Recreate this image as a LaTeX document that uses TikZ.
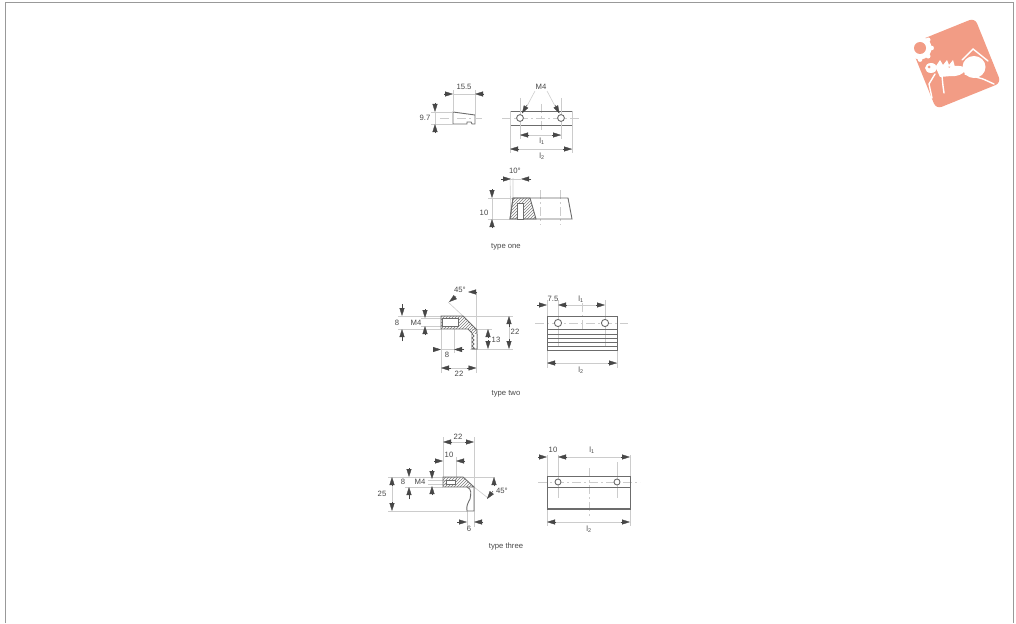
\documentclass[tikz,border=0pt]{standalone}
\usepackage{fontspec}
\setmainfont{Liberation Sans}
\usetikzlibrary{arrows.meta,patterns}
\definecolor{ink}{gray}{0.28}
\definecolor{thin}{gray}{0.80}
\definecolor{salmon}{HTML}{F29C85}
\newcommand\ar[2]{\draw[arr] #1 -- #2;}
\begin{document}
\begin{tikzpicture}[x=1pt,y=-1pt,
  arr/.style={draw=ink,line width=0.35pt,-{Triangle[length=8pt,width=5pt]},fill=ink},
  dimln/.style={draw=thin,line width=0.6pt},
  ctr/.style={draw=thin,line width=0.6pt,dash pattern=on 9pt off 3pt on 2pt off 3pt},
  obj/.style={draw=ink!80,line width=0.9pt},
  hatched/.style={pattern=north east lines,pattern color=ink!70},
  lab/.style={font=\fontsize{7.7}{8}\selectfont,text=ink,inner sep=0pt},
  antw/.style={draw=white,line width=1.4pt,line cap=round}]
\useasboundingbox (0,0) rectangle (1016,623);
\draw[draw=gray!80,line width=0.8pt] (5,623) -- (5,2.5) -- (1013,2.5) -- (1013,623);

% ---------- logo
\begin{scope}[shift={(955.5,63.5)},rotate=22]
  \fill[salmon,rounded corners=6pt] (-35,-35) rectangle (35,35);
\end{scope}
\fill[white] (920,48) circle (11.5);
\foreach \a in {0,45,...,315}{\fill[white] (920,48) ++(\a:11.5) circle (2.4);}
\fill[salmon] (920,48) circle (6);
\fill[white] (974,67) ellipse (11.5 and 11);
\fill[white,rotate around={10:(955,71)}] (955,71) ellipse (10 and 5);
\fill[white] (931,68) ellipse (6 and 5);
\fill[white] (935,66) -- (948,65) -- (951,76) -- (940,77) -- cycle;
\fill[white] (936,66) -- (940,60) -- (943,65) -- (947,60) -- (949,65) -- (953,60) -- (955,67) -- cycle;
\fill[salmon] (929,67) circle (1.5);
\draw[antw] (935,74) -- (929,84) -- (932,98);
\draw[antw] (942,76) -- (943,86) -- (944,93);
\draw[antw] (962,60) -- (973,49) -- (988,61);
\draw[antw] (965,74) -- (983,79) -- (994,84);

% ---------- type one: side view
\draw[obj] (453,112) -- (475,115) -- (475,124) -- (472,124) -- (471,122) -- (467,122) -- (467,124) -- (453,124) -- cycle;
\draw[ctr] (440,118) -- (482,118);
\draw[dimln] (453,90) -- (453,112) (475,90) -- (475,115);
\draw[dimln] (431,112) -- (453,112) (431,124) -- (453,124);
\ar{(444,94)}{(453,94)}
\ar{(484,94)}{(475,94)}
\ar{(435,103)}{(435,112)}
\ar{(435,133)}{(435,124)}
\draw[dimln] (453,94) -- (475,94) (435,112) -- (435,124);
\node[lab] (t155) at (464,87) {15.5};
\node[lab] (t97) at (425,118) {9.7};

% ---------- type one: front view
\draw[ctr] (502,118) -- (581,118);
\draw[ctr] (541,104) -- (541,133);
\draw[obj] (510,111) rectangle (572,125);
\draw[dimln] (520,98) -- (520,139) (561,98) -- (561,139);
\draw[dimln] (510,111) -- (510,153) (572,111) -- (572,153);
\draw[dimln] (520,135) -- (561,135) (510,149) -- (572,149);
\draw[obj,fill=white] (520,118) circle (3.4);
\draw[obj,fill=white] (561,118) circle (3.4);
\ar{(529,135)}{(520,135)}
\ar{(552,135)}{(561,135)}
\ar{(519,149)}{(510,149)}
\ar{(563,149)}{(572,149)}
\node[lab] (m4a) at (541,87) {M4};
\draw[dimln] (535,91) -- (527,106);
\draw[dimln] (547,91) -- (555,106);
\ar{(527,105)}{(522,113.5)}
\ar{(555,105)}{(559.5,113.5)}
\node[lab] (l1a) at (542,141) {l\textsubscript{1}};
\node[lab] (l2a) at (542,156) {l\textsubscript{2}};

% ---------- type one: section
\draw[dimln] (510,178) -- (511,219) (513,178) -- (513,198);
\draw[dimln] (488,198) -- (513,198) (488,219) -- (510,219);
\draw[ctr] (540,190) -- (540,225) (560,190) -- (560,225);
\draw[obj] (513,198) -- (568,198) -- (572,219) -- (510,219) -- cycle;
\draw[obj,hatched] (513,198) -- (530,198) -- (536,219) -- (510,219) -- cycle;
\draw[obj,fill=white] (517,203) rectangle (523,219);
\ar{(501,179)}{(511,179)}
\ar{(531,179)}{(521,179)}
\draw[dimln] (511,179) -- (521,179);
\ar{(492,189)}{(492,198)}
\ar{(492,228)}{(492,219)}
\draw[dimln] (492,198) -- (492,219);
\node[lab] (a10) at (515,171) {10°};
\node[lab] (t10) at (484,213) {10};
\node[lab] (type1) at (506,247) {type one};

% ---------- type two: section
\draw[dimln] (398,316) -- (463,316) (398,329) -- (441,329) (421,318) -- (442,318) (421,326) -- (442,326);
\draw[dimln] (463,316) -- (513,316) (477,349) -- (513,349) (472,329) -- (492,329);
\draw[dimln] (441,329) -- (441,373) (454,329) -- (454,353) (476.5,292) -- (476.5,373);
\draw[dimln] (448,302) -- (463,316);
\draw[obj,hatched] (441,316) -- (463,316) -- (477,330) -- (477,349) -- (472,349) -- (472,333) -- (468,329) -- (441,329) -- cycle;
\draw[obj,fill=white] (442,318) rectangle (458,326);
\draw[draw=none,fill=white] (472.4,334) rectangle (476.6,349);
\draw[obj] (472,334) -- (474,336) -- (472,338) -- (474,340) -- (472,342) -- (474,344) -- (472,346) -- (474,348) -- (472,349) -- (477,349) -- (477,334);
\ar{(402,304)}{(402,316)}
\ar{(402,341)}{(402,329)}
\ar{(425,309)}{(425,318)}
\ar{(425,335)}{(425,326)}
\ar{(509,327)}{(509,316)}
\ar{(509,339)}{(509,349)}
\draw[dimln] (509,327) -- (509,339);
\ar{(488,338)}{(488,329)}
\ar{(488,340)}{(488,349)}
\ar{(433,349.5)}{(441,349.5)}
\ar{(464,349.5)}{(454,349.5)}
\draw[dimln] (441,349.5) -- (454,349.5);
\ar{(451,368)}{(441,368)}
\ar{(467,368)}{(476.5,368)}
\draw[dimln] (451,368) -- (467,368);
\ar{(477,292)}{(468,292)}
\ar{(456,296.5)}{(449,302)}
\node[lab] (a45b) at (460,290) {45°};
\node[lab] (t8b) at (397,323) {8};
\node[lab] (m4b) at (416,323) {M4};
\node[lab] (t22b) at (515,332) {22};
\node[lab] (t13) at (496,340) {13};
\node[lab] (t8c) at (447,355) {8};
\node[lab] (t22c) at (459,374) {22};
\node[lab] (type2) at (506,394) {type two};

% ---------- type two: front view
\draw[ctr] (535,323) -- (628,323);
\draw[ctr] (582,303) -- (582,330);
\draw[dimln] (547,300) -- (547,368) (617,316) -- (617,368);
\draw[dimln] (558,300) -- (558,346) (605,300) -- (605,346);
\draw[obj] (547,316) rectangle (617,350);
\foreach \yy in {329,334,338,342,346}{\draw[obj] (547,\yy) -- (617,\yy);}
\draw[obj,fill=white] (558,323) circle (3.6);
\draw[obj,fill=white] (605,323) circle (3.6);
\ar{(537,305)}{(547,305)}
\ar{(567,305)}{(558,305)}
\ar{(596,305)}{(605,305)}
\draw[dimln] (567,305) -- (596,305) (547,363) -- (617,363);
\ar{(556,363)}{(547,363)}
\ar{(608,363)}{(617,363)}
\node[lab] (t75) at (553,299) {7.5};
\node[lab] (l1b) at (581,299) {l\textsubscript{1}};
\node[lab] (l2b) at (581,370) {l\textsubscript{2}};

% ---------- type three: section
\draw[dimln] (388,477) -- (495,477) (405,487) -- (443,487) (428,480) -- (446,480) (428,484) -- (446,484);
\draw[dimln] (388,511) -- (467,511);
\draw[dimln] (443,437) -- (443,477) (456,457) -- (456,480) (474,437) -- (474,527) (467,511) -- (467,527);
\draw[dimln] (474,487) -- (488,498);
\draw[obj,hatched] (443,477) -- (463,477) -- (474,487) -- (467.5,487) -- (443,487) -- cycle;
\draw[obj,fill=white] (446,480) rectangle (455,484);
\draw[obj] (467,487) .. controls (472,489) and (471,494) .. (470,499) .. controls (468,503) and (466,506) .. (467,511) -- (474,511) -- (474,487);
\ar{(452,442)}{(443,442)}
\ar{(465,442)}{(474,442)}
\draw[dimln] (452,442) -- (465,442);
\ar{(434,461)}{(443,461)}
\ar{(465,461)}{(456,461)}
\ar{(409,468)}{(409,477)}
\ar{(409,499)}{(409,487)}
\ar{(432,470)}{(432,479)}
\ar{(432,495)}{(432,486)}
\ar{(392,486)}{(392,477)}
\ar{(392,502)}{(392,511)}
\draw[dimln] (392,486) -- (392,502);
\ar{(494,486)}{(494,477)}
\ar{(493,491)}{(487,499)}
\ar{(457,522)}{(467,522)}
\ar{(483,522)}{(474,522)}
\node[lab] (t22d) at (458,437) {22};
\node[lab] (t10b) at (449,455) {10};
\node[lab] (t8d) at (403,482) {8};
\node[lab] (m4c) at (420,482) {M4};
\node[lab] (t25) at (382,494) {25};
\node[lab] (a45c) at (502,491) {45°};
\node[lab] (t6) at (469,529) {6};
\node[lab] (type3) at (506,547) {type three};

% ---------- type three: front view
\draw[ctr] (538,482) -- (640,482);
\draw[ctr] (589,468) -- (589,518);
\draw[dimln] (547,455) -- (547,526) (630,455) -- (630,526);
\draw[dimln] (558,455) -- (558,498) (617,462) -- (617,498);
\draw[obj] (547,476) rectangle (630,509);
\draw[obj] (547,487) -- (630,487);
\draw[obj,line width=1.2pt] (547,509) -- (630,509);
\draw[obj,fill=white] (558,482) circle (3);
\draw[obj,fill=white] (617,482) circle (3);
\ar{(538,457)}{(547,457)}
\ar{(567,457)}{(558,457)}
\ar{(621,457)}{(630,457)}
\draw[dimln] (567,457) -- (621,457) (556,522) -- (621,522);
\ar{(556,522)}{(547,522)}
\ar{(621,522)}{(630,522)}
\node[lab] (t10c) at (553,450) {10};
\node[lab] (l1c) at (592,450) {l\textsubscript{1}};
\node[lab] (l2c) at (589,529) {l\textsubscript{2}};
\end{tikzpicture}
\end{document}
